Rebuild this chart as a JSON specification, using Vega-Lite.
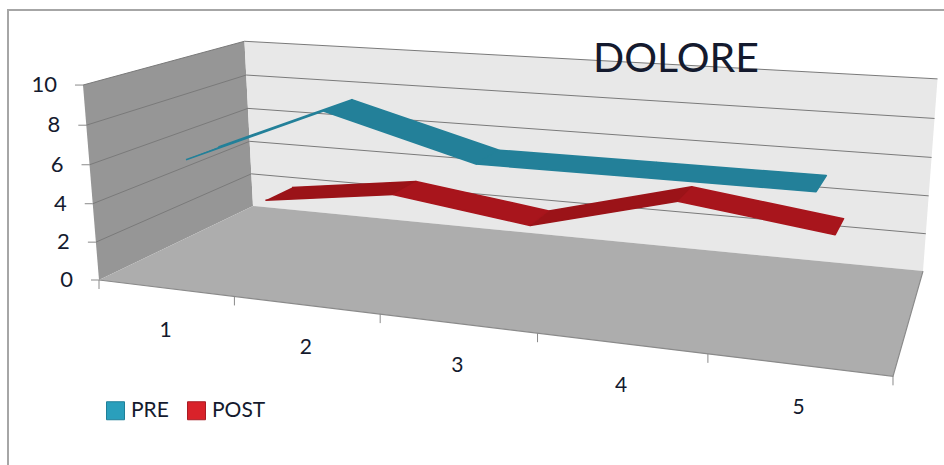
{
  "$schema": "https://vega.github.io/schema/vega-lite/v6.json",
  "width": 960,
  "height": 480,
  "autosize": "none",
  "padding": {"left": 8, "top": 10, "right": 0, "bottom": 0},
  "background": "white",
  "view": {"stroke": "#a6a6a6", "strokeWidth": 2, "fill": "white"},
  "title": {"text": "DOLORE", "font": "Lato", "fontSize": 41, "fontWeight": "normal", "color": "#141a2e", "anchor": "start", "frame": "group", "dx": 585, "offset": -71},
  "datasets": {
    "readings": [
      {"series": "PRE", "category": 1, "value": 6},
      {"series": "PRE", "category": 2, "value": 9},
      {"series": "PRE", "category": 3, "value": 7},
      {"series": "PRE", "category": 4, "value": 7},
      {"series": "PRE", "category": 5, "value": 7},
      {"series": "POST", "category": 1, "value": 2},
      {"series": "POST", "category": 2, "value": 3},
      {"series": "POST", "category": 3, "value": 2},
      {"series": "POST", "category": 4, "value": 4},
      {"series": "POST", "category": 5, "value": 3}
    ],
    "panels": [
      {"surface": "left wall", "corner": 0, "along": 0, "depth": 0, "value": 0},
      {"surface": "left wall", "corner": 1, "along": 0, "depth": 1, "value": 0},
      {"surface": "left wall", "corner": 2, "along": 0, "depth": 1, "value": 10},
      {"surface": "left wall", "corner": 3, "along": 0, "depth": 0, "value": 10},
      {"surface": "back wall", "corner": 0, "along": 0, "depth": 1, "value": 0},
      {"surface": "back wall", "corner": 1, "along": 1, "depth": 1, "value": 0},
      {"surface": "back wall", "corner": 2, "along": 1, "depth": 1, "value": 10},
      {"surface": "back wall", "corner": 3, "along": 0, "depth": 1, "value": 10},
      {"surface": "floor", "corner": 0, "along": 0, "depth": 0, "value": 0},
      {"surface": "floor", "corner": 1, "along": 1, "depth": 0, "value": 0},
      {"surface": "floor", "corner": 2, "along": 1, "depth": 1, "value": 0},
      {"surface": "floor", "corner": 3, "along": 0, "depth": 1, "value": 0}
    ],
    "valueTicks": [{"value": 0}, {"value": 2}, {"value": 4}, {"value": 6}, {"value": 8}, {"value": 10}],
    "categoryTicks": [{"along": 0}, {"along": 0.2}, {"along": 0.4}, {"along": 0.6}, {"along": 0.8}, {"along": 1}],
    "categories": [{"category": 1}, {"category": 2}, {"category": 3}, {"category": 4}, {"category": 5}]
  },
  "encoding": {
    "x": {"field": "sx", "type": "quantitative", "axis": null, "scale": {"domain": [8, 968], "nice": false, "zero": false}},
    "y": {"field": "sy", "type": "quantitative", "axis": null, "scale": {"domain": [490, 10], "nice": false, "zero": false}}
  },
  "layer": [
    {
      "data": {"name": "panels"},
      "transform": [
        {"calculate": "1 - 0.17758 * datum.along + 0.19302 * datum.depth - 0.0036 * datum.value", "as": "w"},
        {"calculate": "(635.42 * datum.along + 202.83 * datum.depth + 99 - 1.9 * datum.value) / datum.w", "as": "sx"},
        {"calculate": "(29.5 * datum.along - 34.24 * datum.depth + 280 - 19.8 * datum.value) / datum.w", "as": "sy"}
      ],
      "mark": {"type": "line", "filled": true, "strokeWidth": 0},
      "encoding": {
        "order": {"field": "corner"},
        "fill": {"field": "surface", "type": "nominal", "legend": null, "scale": {"domain": ["left wall", "back wall", "floor", "PRE rising", "PRE falling", "POST rising", "POST falling"], "range": ["#969696", "#e8e8e8", "#adadad", "#238099", "#238099", "#9b1318", "#a8151c"]}}
      }
    },
    {
      "data": {"name": "panels"},
      "transform": [
        {"filter": "datum.surface === 'floor' && datum.corner <= 2"},
        {"calculate": "1 - 0.17758 * datum.along + 0.19302 * datum.depth - 0.0036 * datum.value", "as": "w"},
        {"calculate": "(635.42 * datum.along + 202.83 * datum.depth + 99 - 1.9 * datum.value) / datum.w", "as": "sx"},
        {"calculate": "(29.5 * datum.along - 34.24 * datum.depth + 280 - 19.8 * datum.value) / datum.w", "as": "sy"}
      ],
      "mark": {"type": "line", "color": "#8a8a8a", "strokeWidth": 1.2},
      "encoding": {"order": {"field": "corner"}}
    },
    {
      "data": {"name": "valueTicks"},
      "transform": [
        {"filter": "datum.value > 0"},
        {"calculate": "[0, 1, 2]", "as": "corners"},
        {"flatten": ["corners"], "as": ["corner"]},
        {"calculate": "datum.corner === 2 ? 1 : 0", "as": "along"},
        {"calculate": "datum.corner === 0 ? 0 : 1", "as": "depth"},
        {"calculate": "1 - 0.17758 * datum.along + 0.19302 * datum.depth - 0.0036 * datum.value", "as": "w"},
        {"calculate": "(635.42 * datum.along + 202.83 * datum.depth + 99 - 1.9 * datum.value) / datum.w", "as": "sx"},
        {"calculate": "(29.5 * datum.along - 34.24 * datum.depth + 280 - 19.8 * datum.value) / datum.w", "as": "sy"}
      ],
      "mark": {"type": "line", "color": "#7a7a7a", "strokeWidth": 1},
      "encoding": {"detail": {"field": "value"}, "order": {"field": "corner"}}
    },
    {
      "data": {"name": "valueTicks"},
      "transform": [
        {"calculate": "1 - 0.0036 * datum.value", "as": "w"},
        {"calculate": "(99 - 1.9 * datum.value) / datum.w", "as": "sx"},
        {"calculate": "(280 - 19.8 * datum.value) / datum.w", "as": "sy"},
        {"calculate": "datum.sx - 8", "as": "tickEnd"}
      ],
      "layer": [
        {
          "mark": {"type": "rule", "color": "#8a8a8a", "strokeWidth": 1},
          "encoding": {"x2": {"field": "tickEnd"}}
        },
        {
          "mark": {"type": "text", "font": "Lato", "fontSize": 22, "align": "right", "baseline": "middle", "dx": -26, "color": "#141a2e"},
          "encoding": {"text": {"field": "value", "type": "quantitative"}}
        }
      ]
    },
    {
      "data": {"name": "categoryTicks"},
      "transform": [
        {"calculate": "1 - 0.17758 * datum.along", "as": "w"},
        {"calculate": "(635.42 * datum.along + 99) / datum.w", "as": "sx"},
        {"calculate": "(29.5 * datum.along + 280) / datum.w", "as": "sy"},
        {"calculate": "datum.sy + 9", "as": "tickEnd"}
      ],
      "mark": {"type": "rule", "color": "#8a8a8a", "strokeWidth": 1},
      "encoding": {"y2": {"field": "tickEnd"}}
    },
    {
      "data": {"name": "categories"},
      "transform": [
        {"calculate": "(datum.category - 0.5) / 5", "as": "along"},
        {"calculate": "1 - 0.17758 * datum.along", "as": "w"},
        {"calculate": "(635.42 * datum.along + 99) / datum.w", "as": "sx"},
        {"calculate": "(29.5 * datum.along + 280) / datum.w", "as": "sy"}
      ],
      "mark": {"type": "text", "font": "Lato", "fontSize": 21, "align": "center", "baseline": "middle", "dy": 43, "color": "#141a2e"},
      "encoding": {"text": {"field": "category", "type": "nominal"}}
    },
    {
      "data": {"name": "readings"},
      "transform": [
        {"window": [{"op": "lead", "field": "value", "as": "nextValue"}], "sort": [{"field": "category", "order": "ascending"}], "groupby": ["series"]},
        {"filter": "isValid(datum.nextValue)"},
        {"calculate": "[0, 1, 2, 3]", "as": "corners"},
        {"flatten": ["corners"], "as": ["corner"]},
        {"calculate": "(datum.category - 0.5 + (datum.corner === 1 || datum.corner === 2 ? 1 : 0)) / 5", "as": "along"},
        {"calculate": "datum.corner === 1 || datum.corner === 2 ? datum.nextValue : datum.value", "as": "height"},
        {"calculate": "(datum.series === 'PRE' ? 0.165 : 0.66) + (datum.corner >= 2 ? 0.2 : 0)", "as": "depth"},
        {"calculate": "datum.series + (datum.nextValue > datum.value ? ' rising' : ' falling')", "as": "face"},
        {"calculate": "1 - 0.17758 * datum.along + 0.19302 * datum.depth - 0.0036 * datum.height", "as": "w"},
        {"calculate": "(635.42 * datum.along + 202.83 * datum.depth + 99 - 1.9 * datum.height) / datum.w", "as": "sx"},
        {"calculate": "(29.5 * datum.along - 34.24 * datum.depth + 280 - 19.8 * datum.height) / datum.w", "as": "sy"}
      ],
      "mark": {"type": "line", "filled": true, "strokeWidth": 1.6, "strokeJoin": "round"},
      "encoding": {
        "detail": {"field": "category"},
        "order": {"field": "corner"},
        "fill": {"field": "face", "type": "nominal", "legend": null, "scale": {"domain": ["left wall", "back wall", "floor", "PRE rising", "PRE falling", "POST rising", "POST falling"], "range": ["#969696", "#e8e8e8", "#adadad", "#238099", "#238099", "#9b1318", "#a8151c"]}},
        "stroke": {"field": "face", "type": "nominal", "legend": null, "scale": {"domain": ["PRE rising", "PRE falling", "POST rising", "POST falling"], "range": ["#238099", "#238099", "#9b1318", "#a8151c"]}}
      }
    },
    {
      "data": {"name": "readings"},
      "mark": {"type": "square", "size": 0, "opacity": 0},
      "encoding": {
        "x": {"datum": 0},
        "y": {"datum": 0},
        "color": {
          "field": "series",
          "type": "nominal",
          "scale": {"domain": ["PRE", "POST"], "range": ["#2a9fbc", "#d9222a"]},
          "legend": {
            "title": null,
            "orient": "none",
            "legendX": 97,
            "legendY": 390,
            "direction": "horizontal",
            "columns": 2,
            "columnPadding": 16,
            "symbolType": "square",
            "symbolSize": 324,
            "symbolOpacity": 1,
            "symbolStrokeWidth": 1,
            "labelFont": "Lato",
            "labelFontSize": 21,
            "labelColor": "#141a2e",
            "labelOffset": 5,
            "encode": {"symbols": {"update": {"stroke": {"signal": "datum.value === 'PRE' ? '#1f7f98' : '#a81c24'"}}}}
          }
        }
      }
    }
  ]
}
